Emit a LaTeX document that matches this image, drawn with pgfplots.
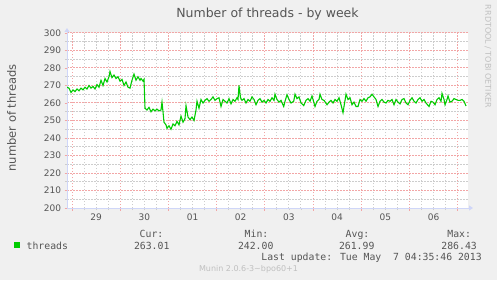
\documentclass[border=0pt]{standalone}
\usepackage{pgfplots}
\pgfplotsset{compat=1.18}
\usepackage{fontspec}
\setmainfont{DejaVu Sans}
\newfontfamily\monofont{DejaVu Sans Mono}
\usetikzlibrary{arrows.meta}
\definecolor{bg}{HTML}{F0F0F0}
\definecolor{fontc}{HTML}{555555}
\definecolor{axisc}{HTML}{CFD6F8}
\definecolor{mgrid}{HTML}{F2A6A6}
\definecolor{gridc}{HTML}{CDCDCD}
\definecolor{linec}{HTML}{00CC00}
\definecolor{faint}{HTML}{C0C0C0}
\begin{document}
\begin{tikzpicture}[x=1bp,y=1bp]
\fill[bg] (0,0) rectangle (497,280);
\useasboundingbox (0,0) rectangle (497,280);
\begin{axis}[
 at={(67bp,72bp)}, anchor=south west,
 width=401bp, height=175bp, scale only axis,
 xmin=67, xmax=468, ymin=200, ymax=300,
 axis background/.style={fill=white},
 axis x line=bottom, axis y line=left,
 axis line style={draw=axisc, line width=0.8bp},
 x axis line style={-{Triangle[length=4bp,width=5bp]}, shorten >=-5bp},
 y axis line style={-{Triangle[length=4bp,width=5bp]}, shorten >=-5bp},
 xtick={72,120.2,168.4,216.6,264.8,313,361.2,409.4,457.6},
 xticklabels={29,30,01,02,03,04,05,06,{}},
 xticklabel style={xshift=24.1bp},
 minor xtick={84.05,96.1,108.15,132.25,144.3,156.35,180.45,192.5,204.55,228.65,240.7,252.75,276.85,288.9,300.95,325.05,337.1,349.15,373.25,385.3,397.35,421.45,433.5,445.55},
 ytick={200,210,...,300},
 minor ytick={205,215,...,295},
 grid=both,
 major grid style={color=mgrid, line width=1bp, dash pattern=on 1.5bp off 1.5bp},
 minor grid style={color=gridc, line width=1bp, dash pattern=on 1.5bp off 1.5bp},
 tick align=outside, major tick length=2.5bp, minor tick length=2bp,
 major tick style={color=mgrid, line width=0.8bp},
 minor tick style={color=gridc, line width=0.8bp},
 tick label style={font=\fontsize{9bp}{10bp}\selectfont, text=fontc},
 /pgf/number format/assume math mode=true,
]
\addplot[linec, line width=1.1bp] coordinates {
(67,269) (69,268.5) (71,266) (73,267.5) (75,266.5) (77,268) (79,267) (81,268.5) (83,267.5) (85,269)
(87,268) (89,270) (91,268.5) (93,269.5) (95,268) (97,270.5) (99,269) (101,273) (103,270) (105,274)
(107,272) (109,275) (110,278) (112,274.5) (114,276) (116,274) (118,275) (120,272.5) (122,273.5) (124,270)
(126,272) (128,269) (130,268.5) (132,273) (134,276.5) (136,273) (138,275) (140,273) (141,274) (143,272.5)
(144,273.5) (145,257) (147,256) (149,257.5) (151,255) (153,256.5) (155,255.5) (157,256.5) (159,255.5) (161,256)
(162,260.5) (163,255) (164,249) (166,247.5) (167,245.5) (169,247) (171,245) (173,248) (175,247) (177,249.5)
(179,247.5) (181,252.5) (183,249) (185,251) (186,258.5) (188,252) (190,250.5) (192,252) (194,250) (196,256)
(197,261) (199,257) (201,262) (203,260) (205,261.5) (207,262.5) (209,261) (211,262) (213,263.5) (215,261.5)
(217,262.5) (219,263) (221,258) (223,262) (225,261) (227,260) (229,262.5) (231,259.5) (233,262) (235,261)
(237,263) (238,262) (239,270) (240.5,263) (242,261.5) (244,262.5) (246,260) (248,262) (250,261) (252,263.5)
(254,262) (256,259) (258,261.5) (260,262.5) (262,260.5) (264,261.5) (266,260) (268,262) (270,261) (272,263)
(274,261.5) (275,265) (277,262) (279,260.5) (281,261.5) (283.7,258) (285,261) (287,264.7) (289,262) (291,260)
(293.7,261) (295,265) (297,262.5) (299,263.5) (301,260) (303.7,258.5) (306,261.5) (308,262.5) (310,261) (312,264)
(315,258) (317,261) (319,262) (320,265) (322,262) (324,261.5) (327,259) (329,260.5) (331,261.5) (333,260)
(335,262) (337,261) (339,263) (341,259) (343,254.5) (346,265) (348,262) (350,263) (352,259) (354,260.5)
(356,258) (358,258) (360,262) (362,261) (364,262.5) (366,261) (368,263) (370,263.5) (372,265) (374,263.5)
(376,262) (378,258) (380,261) (382,262) (384,260.5) (386,260) (388,261.5) (390,261) (392,262) (394,259)
(396,262) (398,260.5) (400,259.5) (402,262) (404,262.5) (406,260) (408,259) (410,261.5) (412,263) (414,261)
(416,260) (418,262) (420,263) (422,261) (424,262) (426,260) (429,258) (431,261) (433,260.5) (435,259)
(437,262) (439,263) (441,261) (442,265.5) (444,262) (445,259) (447,262) (448,264) (450,260.5) (452,261)
(454,262.5) (456,262) (458,261.5) (460,261.5) (462,262) (464,261) (466,258.3)
};
\end{axis}
\node[font=\fontsize{12.5bp}{15bp}\selectfont, text=fontc, anchor=base] at (267.5,262.5) {Number of threads - by week};
\node[rotate=90, font=\fontsize{11.5bp}{14bp}\selectfont, text=fontc] at (11.5,162) {number of threads};
\node[rotate=-90, font=\fontsize{8bp}{10bp}\selectfont, text=faint] at (488,223.5) {RRDTOOL / TOBI OETIKER};
\fill[linec] (14,32) rectangle (20,38);
\begin{scope}[every node/.style={anchor=base west, inner sep=0pt, font=\monofont\fontsize{9.8bp}{12bp}\selectfont, text=fontc}]
\node at (26.5,31) {threads};
\node at (139.5,42.5) {Cur:};
\node at (133.8,31) {263.01};
\node at (244.5,42.5) {Min:};
\node at (237.8,31) {242.00};
\node at (345.5,42.5) {Avg:};
\node at (338.8,31) {261.99};
\node at (447.2,42.5) {Max:};
\node at (441.2,31) {286.43};
\node at (261.2,19.5) {Last update: Tue May\hphantom{0}\hphantom{0}7 04:35:46 2013};
\end{scope}
\node[anchor=base, inner sep=0pt, font=\fontsize{8bp}{10bp}\selectfont, text=faint] at (248.5,8.5) {Munin 2.0.6-3\textasciitilde bpo60+1};
\end{tikzpicture}
\end{document}
